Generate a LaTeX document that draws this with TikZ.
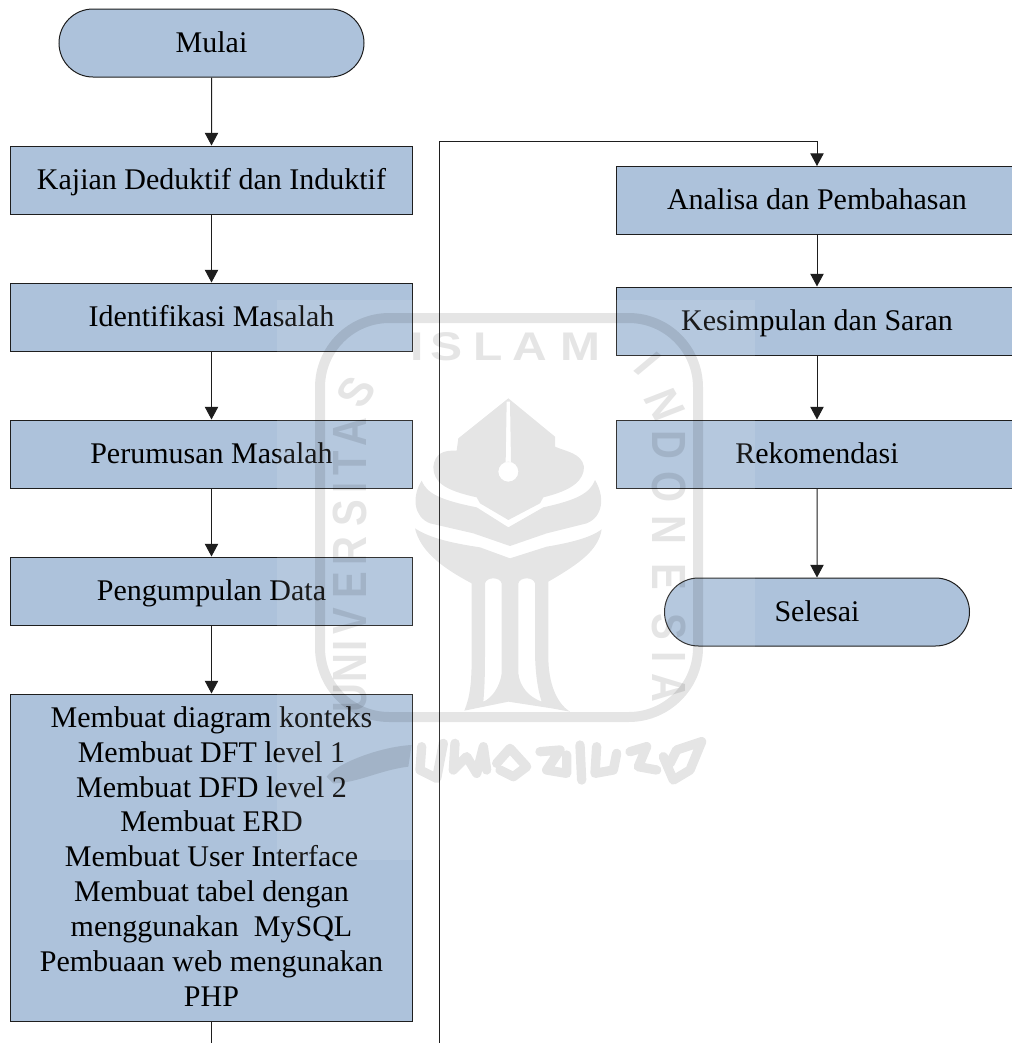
\documentclass[tikz,border=0pt]{standalone}
\usepackage{fontspec}
\setmainfont{Liberation Serif}
\newfontfamily\wmfont{Liberation Sans}
\usetikzlibrary{arrows.meta,shapes.misc}
\definecolor{boxfill}{HTML}{ADC2DB}
\definecolor{edge}{HTML}{1E1E1E}
\tikzset{
  proc/.style={draw=edge,fill=boxfill,line width=0.75pt,rectangle,inner sep=0pt,align=center,
    font=\fontsize{22.5}{26.2}\selectfont,text=black},
  fixline/.style={text height=17pt,text depth=3.5pt},
  term/.style={proc,fixline,rounded rectangle,minimum width=228.75pt,minimum height=51pt},
  onebox/.style={proc,fixline,minimum width=301pt,minimum height=51pt},
  conn/.style={edge,line width=0.75pt},
  arr/.style={conn,-{Triangle[length=9.5pt,width=10pt]}},
  wm/.style={inner sep=0pt,text=black,text opacity=0.1,font=\wmfont\bfseries\fontsize{30}{30}\selectfont,xscale=1.2,transform shape},
  wmfill/.style={fill=black,fill opacity=0.1,draw=none},
}
\begin{document}
\begin{tikzpicture}[x=0.75pt,y=-0.75pt]
\useasboundingbox (0,0) rectangle (1012,1043);
\clip (0,0) rectangle (1012,1043);
\fill[white] (0,0) rectangle (1012,1043);
% left column
\node[term] (mulai) at (211.5,43) {Mulai};
\node[onebox] (kajian) at (211.5,180) {Kajian Deduktif dan Induktif};
\node[onebox] (identifikasi) at (211.5,317) {Identifikasi Masalah};
\node[onebox] (perumusan) at (211.5,454) {Perumusan Masalah};
\node[onebox] (pengumpulan) at (211.5,591) {Pengumpulan Data};
\node[proc,minimum width=301pt,minimum height=245.25pt] (membuat) at (211.5,857.5) {Membuat diagram konteks\\Membuat DFT level 1\\Membuat DFD level 2\\Membuat ERD\\Membuat User Interface\\Membuat tabel dengan\\menggunakan\ \ MySQL\\Pembuaan web mengunakan\\PHP\rule[-1.5pt]{0pt}{1.5pt}};
% right column
\node[onebox] (analisa) at (817,200.5) {Analisa dan Pembahasan};
\node[onebox] (kesimpulan) at (817,321) {Kesimpulan dan Saran};
\node[onebox] (rekomendasi) at (817,454) {Rekomendasi};
\node[term] (selesai) at (817,612) {Selesai};
% free ends
\coordinate (outA) at (211.5,1043);
\coordinate (inB) at (439,1043);
\coordinate (bendB) at (439,141);
\coordinate (bendC) at (817,141);
% connectors
\draw[arr] (mulai) -- (kajian);
\draw[arr] (kajian) -- (identifikasi);
\draw[arr] (identifikasi) -- (perumusan);
\draw[arr] (perumusan) -- (pengumpulan);
\draw[arr] (pengumpulan) -- (membuat);
\draw[conn] (membuat) -- (outA);
\draw[arr] (inB) -- (bendB) -- (bendC) -- (analisa);
\draw[arr] (analisa) -- (kesimpulan);
\draw[arr] (kesimpulan) -- (rekomendasi);
\draw[arr] (rekomendasi) -- (selesai);
% watermark: light veil
\fill[white,fill opacity=0.1] (277,300) rectangle (755,860);
% frame
\draw[black,draw opacity=0.1,line width=7.5pt,rounded corners=52pt] (320,717) -- (320,318) -- (698,318) -- (698,717) -- cycle;
% letters
\foreach \l/\px/\py/\r [count=\i] in {I/417/347/0,S/447/347/0,L/488/347/0,A/530/347/0,M/580/347/0,
  I/648/364/-45,N/665/405/-65,D/669/445/-90,O/669/487/-90,N/669/530/-90,E/669/577/-90,S/669/627/-90,I/669/657/-90,A/669/688/-90,
  U/350/698/90,N/350/668/90,I/350/646/90,V/350/621/90,E/350/585/90,R/350/551/90,S/350/513/90,I/350/488/90,T/350/463/90,A/350/432/90,S/356/392/60}
  \node[wm,rotate=\r] (wm\i) at (\px,\py) {\l};
% logo in zoom coordinates
\begin{scope}[shift={(280,290)},x=0.25pt,y=-0.25pt]
\path[wmfill,even odd rule]
  (685,325) -- (535,445) -- (530,482) .. controls (490,480) and (465,490) .. (460,530) .. controls (460,575) and (490,600) .. (590,622) -- (600,640) -- (685,690)
  -- (780,640) -- (790,622) .. controls (880,600) and (912,570) .. (912,530) .. controls (905,490) and (860,485) .. (825,470) -- (825,440) -- cycle
  (680,335) -- (690,335) -- (693,516) -- (677,516) -- cycle
  (685,545) circle[radius=30];
\path[wmfill]
  (425,572) .. controls (440,610) and (480,630) .. (590,652) -- (685,712) -- (790,652)
  .. controls (890,630) and (930,610) .. (945,570) .. controls (975,620) and (970,680) .. (920,700)
  -- (800,730) -- (690,768) -- (580,730) -- (450,700) .. controls (400,680) and (395,620) .. (425,572) -- cycle;
\path[wmfill,even odd rule]
  (405,715) .. controls (450,745) and (520,760) .. (600,772) -- (690,805) -- (800,770) .. controls (860,760) and (930,745) .. (965,718)
  .. controls (955,780) and (900,820) .. (805,875) -- (805,1100) .. controls (805,1180) and (830,1240) .. (870,1265)
  -- (815,1255) -- (685,1235) -- (553,1262) .. controls (570,1220) and (575,1180) .. (575,1100) -- (575,880)
  .. controls (480,830) and (420,780) .. (405,715) -- cycle
  (615,880) .. controls (620,860) and (660,860) .. (665,880) -- (665,1150) .. controls (660,1190) and (635,1225) .. (610,1235)
  .. controls (615,1180) and (615,1130) .. (615,1080) -- cycle
  (715,880) .. controls (720,860) and (760,860) .. (765,880) -- (765,1080) .. controls (765,1130) and (770,1190) .. (785,1235)
  .. controls (745,1220) and (720,1190) .. (715,1150) -- cycle;
% script band
\path[wmfill]
  (140,1460) .. controls (170,1420) and (300,1370) .. (395,1365) -- (385,1430) .. controls (300,1440) and (230,1480) .. (160,1480) -- cycle;
\draw[black,draw opacity=0.1,line width=7pt,line cap=round,line join=round]
  (425,1370) -- (420,1440) -- (470,1465) -- (490,1360)
  (525,1360) -- (520,1440) -- (560,1400) -- (590,1450) -- (610,1370) -- (620,1440)
  (650,1420) -- (690,1375) -- (740,1430) -- (700,1460) -- (660,1440)
  (780,1385) -- (840,1380) -- (800,1440) -- (860,1450) -- (860,1395)
  (900,1365) -- (905,1470) (950,1370) -- (945,1450) -- (1000,1440) -- (1010,1390)
  (1050,1385) -- (1100,1370) -- (1075,1430) -- (1130,1440) (1150,1400) -- (1180,1470) -- (1230,1440) -- (1265,1355) -- (1190,1380) -- (1170,1420);
\end{scope}
\end{tikzpicture}
\end{document}
